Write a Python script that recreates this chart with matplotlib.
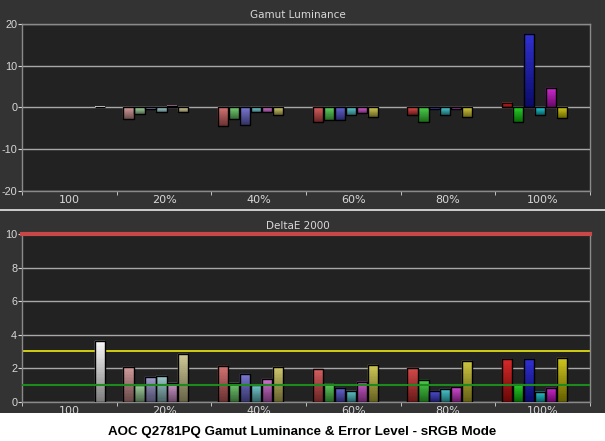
import numpy as np
import matplotlib
matplotlib.use('Agg')
import matplotlib.pyplot as plt
from matplotlib.patches import Rectangle

plt.rcParams['axes.unicode_minus'] = False

# 数据
groups = ['100', '20%', '40%', '60%', '80%', '100%']
sat = [0.2, 0.4, 0.6, 0.8, 1.0]

# Gamut Luminance (white, then R G B C M Y per saturation 20..100%)
lum_white = 0.2
lum_red = [-2.8, -4.4, -3.4, -1.7, 1.1]
lum_green = [-1.6, -2.8, -3.1, -3.6, -3.6]
lum_blue = [-0.4, -4.1, -2.9, -0.4, 17.6]
lum_cyan = [-1.2, -1.2, -1.9, -1.7, -1.7]
lum_magenta = [0.3, -1.2, -1.4, -0.3, 4.6]
lum_yellow = [-1.2, -1.7, -2.2, -2.4, -2.6]

# DeltaE 2000
de_white = 3.6
de_red = [2.1, 2.15, 1.93, 2.03, 2.53]
de_green = [1.0, 1.14, 1.08, 1.27, 1.06]
de_blue = [1.5, 1.63, 0.8, 0.66, 2.53]
de_cyan = [1.55, 1.0, 0.66, 0.74, 0.6]
de_magenta = [1.14, 1.33, 1.2, 0.86, 0.84]
de_yellow = [2.83, 2.09, 2.17, 2.45, 2.59]

caption = 'AOC Q2781PQ Gamut Luminance & Error Level - sRGB Mode'

hues = [(0.82, 0.05, 0.05), (0.05, 0.78, 0.05), (0.08, 0.08, 0.80),
        (0.05, 0.74, 0.78), (0.78, 0.05, 0.78), (0.78, 0.74, 0.0)]
pastel = np.array([0.80, 0.78, 0.78])
blend = {0.2: 0.30, 0.4: 0.55, 0.6: 0.68, 0.8: 0.80, 1.0: 1.0}

BG = '#333333'
PLOT_BG = '#222222'
GRID = '#a8a8a8'
TXT = '#d8d8d8'

pitch = 11 / 95.0
bw = 10.2 / 95.0
off = 6.8 / 95.0
NSLICE = 24


def grad_bar(ax, x, h, color):
    c = np.array(color)
    top = c + (1 - c) * 0.12
    bot = c * 0.5
    y0, y1 = min(0, h), max(0, h)
    edges = np.linspace(y0, y1, NSLICE + 1)
    t = (np.arange(NSLICE) + 0.5) / NSLICE
    cols = bot[None, :] * (1 - t[:, None]) + top[None, :] * t[:, None]
    ax.bar(np.full(NSLICE, x), np.diff(edges), bw, bottom=edges[:-1],
           align='edge', color=cols, edgecolor=cols, lw=0.3, zorder=3)
    ax.add_patch(Rectangle((x, y0), bw, y1 - y0, facecolor='none',
                           edgecolor='black', lw=1.0, zorder=4))


def draw(ax, white, series):
    grad_bar(ax, 0 + off + 6 * pitch, white, (0.97, 0.97, 0.97))
    for j, vals in enumerate(series):
        for i, v in enumerate(vals):
            t = blend[sat[i]]
            col = pastel * (1 - t) + np.array(hues[j]) * t
            grad_bar(ax, (i + 1) + off + j * pitch, v, col)


def style(ax, title):
    ax.set_facecolor(PLOT_BG)
    ax.set_xlim(0, 6)
    ax.set_xticks(np.arange(6) + 0.5)
    ax.set_xticklabels(groups)
    ax.set_xticks(np.arange(0, 7), minor=True)
    ax.tick_params(axis='x', which='major', length=0, labelsize=8, colors=TXT, pad=3)
    ax.tick_params(axis='x', which='minor', length=3, color=TXT, direction='out')
    ax.tick_params(axis='y', length=3, color=TXT, labelsize=7.8, labelcolor=TXT, pad=0.5)
    for lab in ax.get_yticklabels():
        lab.set_family('Liberation Sans')
    for s in ax.spines.values():
        s.set_color('#8a8a8a')
        s.set_linewidth(1)
    ax.grid(axis='y', color=GRID, lw=1, zorder=1)
    ax.set_axisbelow(True)
    ax.set_title(title, color=TXT, fontsize=7.5, pad=4, x=0.485)


fig = plt.figure(figsize=(6.05, 4.41), dpi=100, facecolor=BG)

ax1 = fig.add_axes([0.0364, 0.567, 0.9388, 0.3787])
draw(ax1, lum_white, [lum_red, lum_green, lum_blue, lum_cyan, lum_magenta, lum_yellow])
ax1.set_ylim(-20, 20)
ax1.set_yticks([-20, -10, 0, 10, 20])
style(ax1, 'Gamut Luminance')

ax2 = fig.add_axes([0.0364, 0.0891, 0.9388, 0.3796])
draw(ax2, de_white, [de_red, de_green, de_blue, de_cyan, de_magenta, de_yellow])
ax2.set_ylim(0, 10)
ax2.set_yticks([0, 2, 4, 6, 8, 10])
style(ax2, 'DeltaE 2000')
ax2.axhline(10, color='#c84848', lw=3, zorder=5, clip_on=False)
ax2.axhline(3, color='#e0dc10', lw=1.3, zorder=2)
ax2.axhline(1, color='#1c8a1c', lw=1.5, zorder=5)

# separator and caption strip
fig.add_artist(plt.Line2D([0, 1], [1 - 210 / 441, 1 - 210 / 441], color='#e8e8e8', lw=1.2))
fig.add_artist(Rectangle((0, 0), 1, 28 / 441, transform=fig.transFigure,
                         facecolor='white', edgecolor='none'))
fig.text(0.5, 9.5 / 441, caption, ha='center', va='center', fontsize=9.6,
         fontweight='bold', color='black', family='Liberation Sans')

fig.savefig('out.png', dpi=100, facecolor=BG)
